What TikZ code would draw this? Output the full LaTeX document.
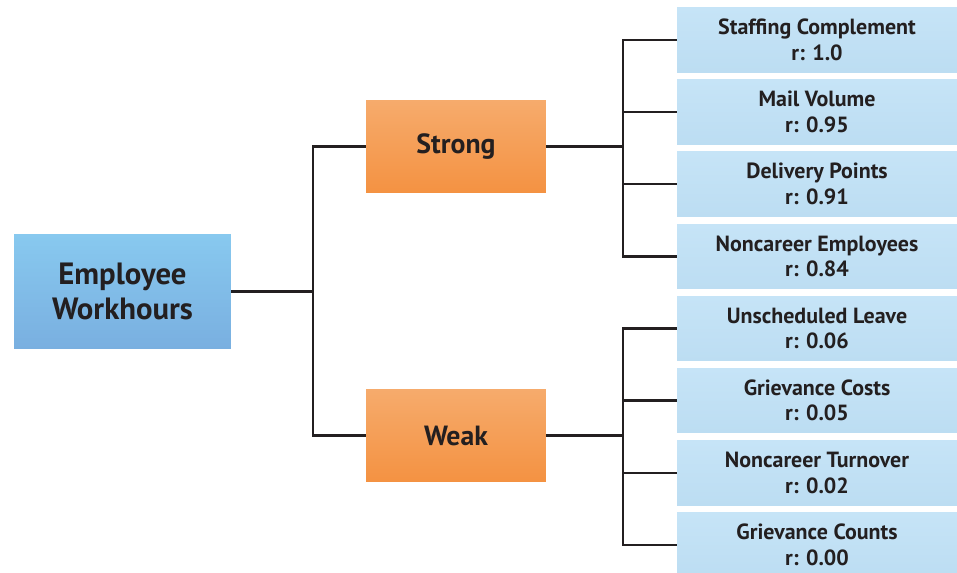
\documentclass[tikz,border=0pt]{standalone}
\usepackage{fontspec}
\setmainfont{PT Sans}
\definecolor{rootTop}{HTML}{88C9EF}
\definecolor{rootBot}{HTML}{79AFE0}
\definecolor{catTop}{HTML}{F6AB6C}
\definecolor{catBot}{HTML}{F49242}
\definecolor{leafTop}{HTML}{C6E4F7}
\definecolor{leafBot}{HTML}{BCDDF2}
\definecolor{wire}{HTML}{231F20}

\begin{document}
\begin{tikzpicture}[x=0.02cm,y=-0.02cm,
    every node/.style={align=center,text=wire,inner sep=0pt},
    root/.style={minimum width=4.34cm,minimum height=2.3cm,top color=rootTop,bottom color=rootBot,
        font=\bfseries\fontsize{17.5}{20}\selectfont},
    cat/.style={minimum width=3.6cm,minimum height=1.86cm,top color=catTop,bottom color=catBot,
        font=\bfseries\fontsize{15.8}{18}\selectfont},
    leaf/.style={minimum width=5.6cm,minimum height=1.3cm,top color=leafTop,bottom color=leafBot,
        font=\bfseries\fontsize{12.5}{14.5}\selectfont}]
    \useasboundingbox (0,0) rectangle (957,573);

    \node[root] (EW) at (122.5,291.5) {Employee\\Workhours};
    \node[cat] (S) at (456,146.5) {Strong};
    \node[cat] (W) at (456,435.5) {Weak};

    \node[leaf] (S1) at (817,40) {Staffing Complement\\r: 1.0};
    \node[leaf] (S2) at (817,112) {Mail Volume\\r: 0.95};
    \node[leaf] (S3) at (817,184) {Delivery Points\\r: 0.91};
    \node[leaf] (S4) at (817,256.5) {Noncareer Employees\\r: 0.84};
    \node[leaf] (W1) at (817,328.5) {Unscheduled Leave\\r: 0.06};
    \node[leaf] (W2) at (817,400.5) {Grievance Costs\\r: 0.05};
    \node[leaf] (W3) at (817,473) {Noncareer Turnover\\r: 0.02};
    \node[leaf] (W4) at (817,545) {Grievance Counts\\r: 0.00};

    \coordinate (J) at (313,291.5);
    \coordinate (JS) at (623,146.5);
    \coordinate (JW) at (623,435.5);

    \draw[wire,line width=1.2pt]
        (EW) -- (J)
        (J) |- (S)
        (J) |- (W)
        (S) -- (JS)
        (JS) |- (S1)
        (JS) |- (S2)
        (JS) |- (S3)
        (JS) |- (S4)
        (W) -- (JW)
        (JW) |- (W1)
        (JW) |- (W2)
        (JW) |- (W3)
        (JW) |- (W4);
\end{tikzpicture}
\end{document}
